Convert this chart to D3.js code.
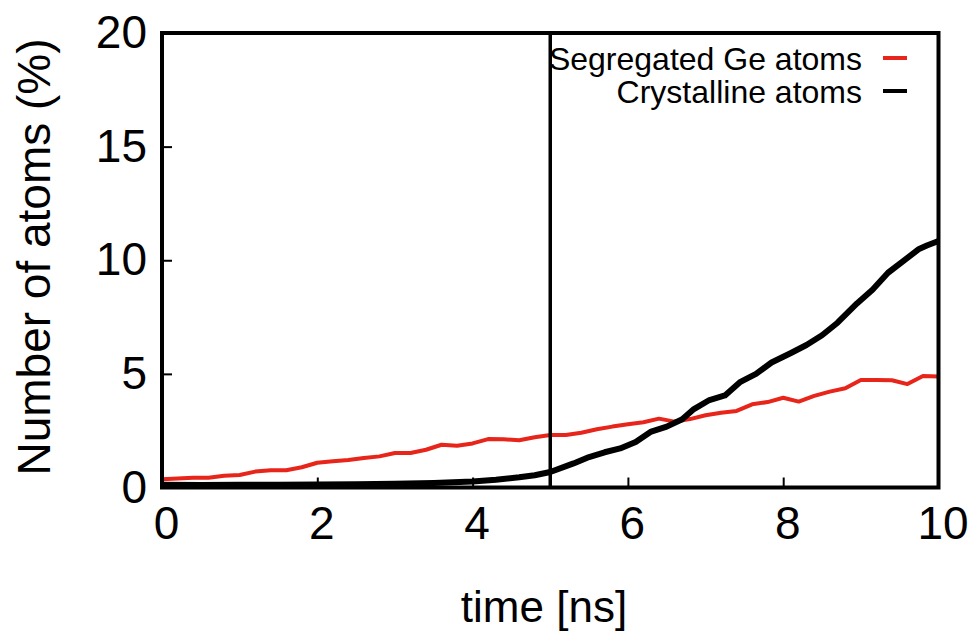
<!DOCTYPE html>
<html>
<head>
<meta charset="utf-8">
<script src="https://cdn.jsdelivr.net/npm/d3@7"></script>
<style>
  body { margin: 0; background: white; }
  text { font-family: "Liberation Sans", Arial, Helvetica, sans-serif; fill: black; }
</style>
</head>
<body>
<script>
// segregated Ge atoms, sampled every 0.2 ns
var segTime = [0, 0.2, 0.4, 0.6, 0.8, 1.0, 1.2, 1.4, 1.6, 1.8, 2.0, 2.2, 2.4, 2.6, 2.8, 3.0, 3.2, 3.4, 3.6, 3.8,
               4.0, 4.2, 4.4, 4.6, 4.8, 5.0, 5.2, 5.4, 5.6, 5.8, 6.0, 6.2, 6.4, 6.6, 6.8, 7.0, 7.2, 7.4, 7.6, 7.8,
               8.0, 8.2, 8.4, 8.6, 8.8, 9.0, 9.2, 9.4, 9.6, 9.8, 10.0];
var segValue = [0.36, 0.40, 0.43, 0.43, 0.52, 0.55, 0.70, 0.76, 0.76, 0.89, 1.09, 1.15, 1.21, 1.30, 1.37, 1.52, 1.52, 1.66, 1.88, 1.84,
                1.94, 2.13, 2.12, 2.08, 2.21, 2.31, 2.31, 2.41, 2.56, 2.68, 2.78, 2.87, 3.03, 2.90, 3.01, 3.18, 3.29, 3.37, 3.66, 3.76,
                3.95, 3.78, 4.03, 4.22, 4.37, 4.73, 4.73, 4.72, 4.55, 4.91, 4.88];

// crystalline atoms (trend of the noisy trace)
var crysTime = [0, 0.5, 1.0, 1.5, 2.0, 2.5, 3.0, 3.5, 4.0, 4.3, 4.6, 4.8, 5.0, 5.3, 5.5, 5.7, 5.9, 6.1, 6.3, 6.5,
                6.7, 6.85, 7.05, 7.25, 7.45, 7.65, 7.85, 8.1, 8.3, 8.5, 8.7, 8.95, 9.15, 9.35, 9.6, 9.75, 9.85, 10.0];
var crysValue = [0.12, 0.11, 0.12, 0.12, 0.13, 0.14, 0.16, 0.20, 0.26, 0.34, 0.45, 0.54, 0.68, 1.06, 1.34, 1.55, 1.72, 2.00, 2.46, 2.68,
                 3.00, 3.45, 3.85, 4.05, 4.65, 5.00, 5.50, 5.92, 6.27, 6.70, 7.25, 8.10, 8.70, 9.45, 10.10, 10.50, 10.65, 10.85];

var xTicks = [0, 2, 4, 6, 8, 10];
var yTicks = [0, 5, 10, 15, 20];
var markerTime = 5.0;

var legendNames = ["Segregated Ge atoms", "Crystalline atoms"];
var legendColors = ["#e8251a", "black"];

var width = 976, height = 635;
var svg = d3.select("body").append("svg")
    .attr("width", width)
    .attr("height", height);

svg.append("rect")
    .attr("width", "100%")
    .attr("height", "100%")
    .attr("fill", "white");

var x = d3.scaleLinear().domain([0, 10]).range([162, 938.5]);
var y = d3.scaleLinear().domain([0, 20]).range([487.5, 33]);

svg.append("clipPath").attr("id", "plot")
  .append("rect")
    .attr("x", x(0)).attr("y", y(20))
    .attr("width", x(10) - x(0)).attr("height", y(0) - y(20));

var line = d3.line()
    .x(function(d) { return x(d[0]); })
    .y(function(d) { return y(d[1]); });

var seg = segTime.map(function(t, i) { return [t, segValue[i]]; });
var crys = crysTime.map(function(t, i) { return [t, crysValue[i]]; });

var plot = svg.append("g").attr("clip-path", "url(#plot)");

plot.append("path")
    .datum(seg)
    .attr("d", line)
    .attr("fill", "none")
    .attr("stroke", legendColors[0])
    .attr("stroke-width", 4)
    .attr("stroke-linejoin", "round");

plot.append("path")
    .datum(crys)
    .attr("d", line)
    .attr("fill", "none")
    .attr("stroke", legendColors[1])
    .attr("stroke-width", 6)
    .attr("stroke-linejoin", "round");

// vertical marker
svg.append("line")
    .attr("x1", x(markerTime)).attr("x2", x(markerTime))
    .attr("y1", y(20)).attr("y2", y(0))
    .attr("stroke", "black")
    .attr("stroke-width", 3.5);

// ticks (inward, no mirror)
var xAxis = svg.append("g")
    .attr("transform", "translate(0," + y(0) + ")")
    .call(d3.axisBottom(x).tickValues(xTicks).tickSizeInner(-10).tickSizeOuter(0).tickPadding(19));
var yAxis = svg.append("g")
    .attr("transform", "translate(" + x(0) + ",0)")
    .call(d3.axisLeft(y).tickValues(yTicks).tickSizeInner(-10).tickSizeOuter(0).tickPadding(15));

[xAxis, yAxis].forEach(function(a) {
  a.select(".domain").remove();
  a.selectAll("line").attr("stroke", "black").attr("stroke-width", 2);
  a.selectAll("text")
    .style("font-size", "46px")
    .style("font-family", "'Liberation Sans', Arial, sans-serif")
    .attr("fill", "black");
});
xAxis.selectAll("text").attr("dy", "0.71em").attr("dx", 4);

// frame
svg.append("rect")
    .attr("x", x(0)).attr("y", y(20))
    .attr("width", x(10) - x(0)).attr("height", y(0) - y(20))
    .attr("fill", "none")
    .attr("stroke", "black")
    .attr("stroke-width", 4);

// axis titles
svg.append("text")
    .attr("x", 544)
    .attr("y", 622)
    .attr("text-anchor", "middle")
    .style("font-size", "44px")
    .text("time [ns]");

svg.append("text")
    .attr("transform", "translate(50," + 257 + ") rotate(-90)")
    .attr("text-anchor", "middle")
    .style("font-size", "46px")
    .text("Number of atoms (%)");

// legend
var legend = svg.append("g");
legendNames.forEach(function(name, i) {
  var ly = 58 + i * 33;
  legend.append("text")
      .attr("x", 862)
      .attr("y", ly)
      .attr("dy", "0.36em")
      .attr("text-anchor", "end")
      .style("font-size", "32px")
      .text(name);
  legend.append("line")
      .attr("x1", 883).attr("x2", 907)
      .attr("y1", ly).attr("y2", ly)
      .attr("stroke", legendColors[i])
      .attr("stroke-width", 4);
});
</script>
</body>
</html>
